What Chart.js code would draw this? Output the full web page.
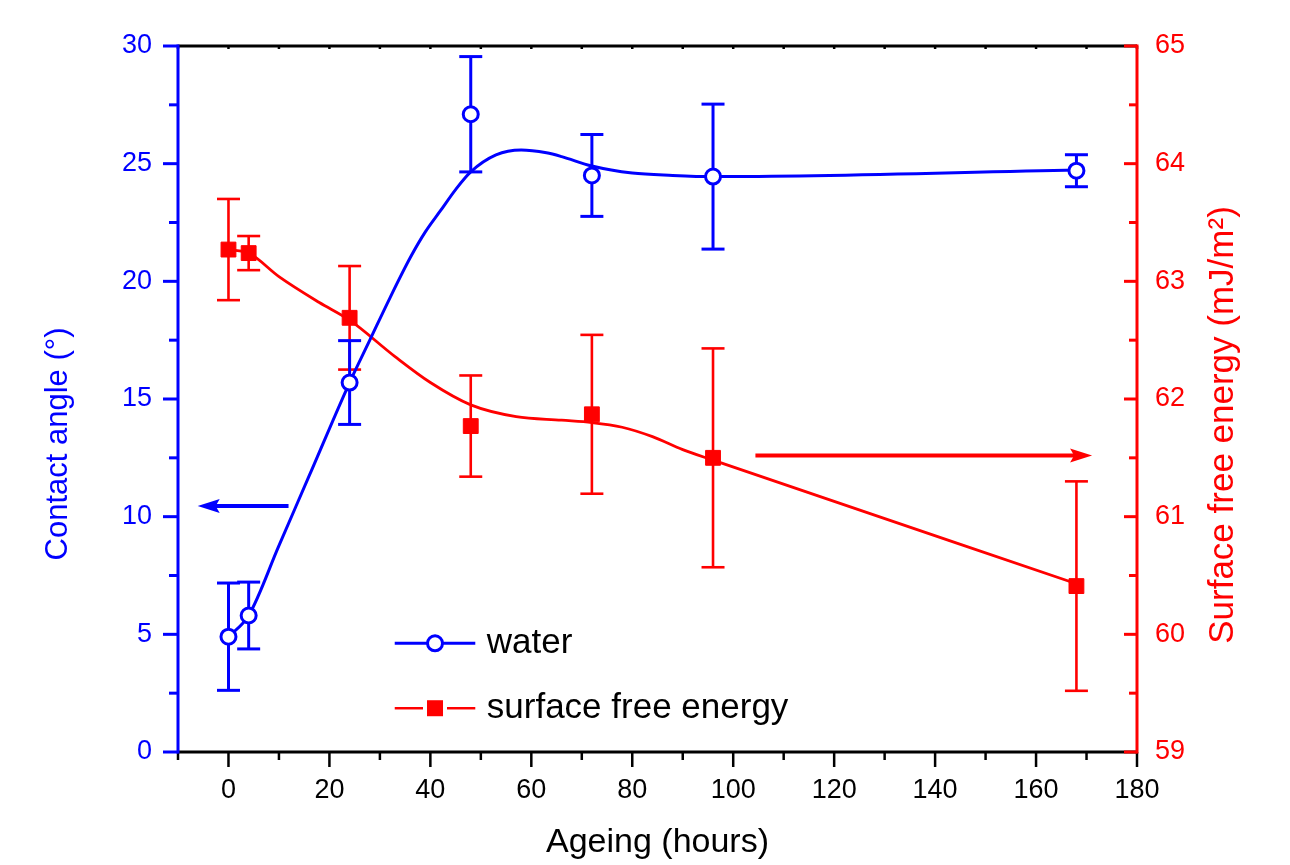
<!DOCTYPE html>
<html>
<head>
<meta charset="utf-8">
<script src="https://cdn.jsdelivr.net/npm/chart.js@4.4.1/dist/chart.umd.min.js"></script>
<style>
body { margin: 0; background: #fff; }
#wrap { width: 1290px; height: 865px; }
</style>
</head>
<body>
<div id="wrap"><canvas id="chart" width="1290" height="865"></canvas></div>
<script>
// measured points
var hours = [0, 4, 24, 48, 72, 96, 168];
var waterAngle = [4.9, 5.8, 15.7, 27.1, 24.5, 24.45, 24.7];
var waterErr = [2.28, 1.42, 1.78, 2.45, 1.74, 3.08, 0.68];
var sfe = [63.27, 63.24, 62.69, 61.77, 61.87, 61.5, 60.41];
var sfeErr = [0.43, 0.145, 0.44, 0.43, 0.675, 0.93, 0.89];

// smoothed curves
var waterFitX = [0, 4, 10, 16, 24, 28, 32, 36, 39, 42, 45, 48, 53, 58, 63, 66, 72, 80, 88, 96, 168];
var waterFitY = [4.9, 5.8, 8.77, 11.74, 15.7, 17.5, 19.3, 21.0, 22.1, 23.0, 23.9, 24.65, 25.37, 25.58, 25.46, 25.3, 24.9, 24.6, 24.5, 24.45, 24.73];
var sfeFitX = [0, 4, 10, 18, 24, 33, 40, 48, 57, 66, 72, 78, 84, 90, 96, 168];
var sfeFitY = [63.27, 63.24, 63.04, 62.82, 62.67, 62.36, 62.14, 61.95, 61.85, 61.82, 61.8, 61.76, 61.68, 61.57, 61.48, 60.43];

// arrows: [from x, to x, y]
var waterArrow = [11.9, -6.1, 10.45];
var sfeArrow = [104.4, 171.1, 61.52];

// ticks
var xTicks = [-10, 0, 10, 20, 30, 40, 50, 60, 70, 80, 90, 100, 110, 120, 130, 140, 150, 160, 170, 180];
var yTicks = [0, 2.5, 5, 7.5, 10, 12.5, 15, 17.5, 20, 22.5, 25, 27.5, 30];
var y1Ticks = [59, 59.5, 60, 60.5, 61, 61.5, 62, 62.5, 63, 63.5, 64, 64.5, 65];

var blue = '#0000ff';
var red = '#ff0000';
var fontFamily = '"Liberation Sans", Arial, sans-serif';

function pts(xs, ys) {
    return xs.map(function (x, i) { return { x: x, y: ys[i] }; });
}

function line(ctx, x1, y1, x2, y2) {
    ctx.beginPath();
    ctx.moveTo(x1, y1);
    ctx.lineTo(x2, y2);
    ctx.stroke();
}

function errorBars(ctx, xs, ys, errs, yScale, xScale, color, width) {
    ctx.save();
    ctx.strokeStyle = color;
    ctx.lineWidth = width;
    for (var i = 0; i < xs.length; i++) {
        var px = xScale.getPixelForValue(xs[i]);
        var top = yScale.getPixelForValue(ys[i] + errs[i]);
        var bot = yScale.getPixelForValue(ys[i] - errs[i]);
        line(ctx, px, top, px, bot);
        line(ctx, px - 11.5, top, px + 11.5, top);
        line(ctx, px - 11.5, bot, px + 11.5, bot);
    }
    ctx.restore();
}

function arrow(ctx, x1, x2, py, color) {
    var dir = x2 > x1 ? 1 : -1;
    ctx.save();
    ctx.strokeStyle = color;
    ctx.fillStyle = color;
    ctx.lineWidth = 4;
    line(ctx, x1, py, x2 - dir * 15, py);
    ctx.beginPath();
    ctx.moveTo(x2, py);
    ctx.lineTo(x2 - dir * 22, py - 7);
    ctx.lineTo(x2 - dir * 18, py);
    ctx.lineTo(x2 - dir * 22, py + 7);
    ctx.closePath();
    ctx.fill();
    ctx.restore();
}

var decor = {
    id: 'decor',
    beforeDatasetsDraw: function (chart) {
        var ctx = chart.ctx, s = chart.scales;
        errorBars(ctx, hours, sfe, sfeErr, s.y1, s.x, red, 2.6);
        errorBars(ctx, hours, waterAngle, waterErr, s.y, s.x, blue, 3);
    },
    afterDatasetsDraw: function (chart) {
        var ctx = chart.ctx, s = chart.scales, a = chart.chartArea;
        arrow(ctx, s.x.getPixelForValue(waterArrow[0]), s.x.getPixelForValue(waterArrow[1]), s.y.getPixelForValue(waterArrow[2]), blue);
        arrow(ctx, s.x.getPixelForValue(sfeArrow[0]), s.x.getPixelForValue(sfeArrow[1]), s.y1.getPixelForValue(sfeArrow[2]), red);

        // axis frame and tick marks
        ctx.save();
        ctx.lineCap = 'butt';
        ctx.lineWidth = 3;
        ctx.strokeStyle = '#000';
        line(ctx, a.left, a.top, a.right, a.top);
        ctx.lineWidth = 2.5;
        xTicks.forEach(function (v) {
            var px = s.x.getPixelForValue(v);
            line(ctx, px, a.bottom, px, a.bottom + (v % 20 === 0 ? 15 : 8));
            line(ctx, px, a.top, px, a.top + 3);
        });
        ctx.lineWidth = 3;
        line(ctx, a.left, a.bottom, a.right, a.bottom);

        ctx.strokeStyle = blue;
        line(ctx, a.left, a.top - 1.5, a.left, a.bottom + 1.5);
        yTicks.forEach(function (v) {
            var py = s.y.getPixelForValue(v);
            line(ctx, a.left - (v % 5 === 0 ? 15 : 9), py, a.left, py);
        });

        ctx.strokeStyle = red;
        line(ctx, a.right, a.top - 1.5, a.right, a.bottom + 1.5);
        y1Ticks.forEach(function (v) {
            var py = s.y1.getPixelForValue(v);
            line(ctx, a.right, py, a.right - (v % 1 === 0 ? 13 : 8), py);
        });
        ctx.restore();

        // legend
        var w = a.right - a.left, h = a.bottom - a.top;
        var lx1 = a.left + 0.226 * w, lx2 = a.left + 0.31 * w, lm = (lx1 + lx2) / 2, tx = a.left + 0.322 * w;
        var ly1 = a.top + 0.846 * h, ly2 = a.top + 0.938 * h;
        ctx.save();
        ctx.strokeStyle = blue;
        ctx.lineWidth = 3;
        line(ctx, lx1, ly1, lx2, ly1);
        ctx.beginPath();
        ctx.arc(lm, ly1, 7.5, 0, Math.PI * 2);
        ctx.fillStyle = '#fff';
        ctx.fill();
        ctx.stroke();
        ctx.strokeStyle = red;
        ctx.lineWidth = 2.5;
        line(ctx, lx1, ly2, lm - 12, ly2);
        line(ctx, lm + 12, ly2, lx2, ly2);
        ctx.fillStyle = red;
        ctx.fillRect(lm - 8, ly2 - 8, 16, 16);
        ctx.fillStyle = '#000';
        ctx.font = '35px ' + fontFamily;
        ctx.textBaseline = 'middle';
        ctx.textAlign = 'left';
        ctx.fillText('water', tx, ly1);
        ctx.fillText('surface free energy', tx, ly2);

        // axis titles
        ctx.textAlign = 'center';
        ctx.font = '34px ' + fontFamily;
        ctx.fillText('Ageing (hours)', (a.left + a.right) / 2, a.bottom + 91);
        ctx.save();
        ctx.font = '31px ' + fontFamily;
        ctx.translate(58, a.top + 398);
        ctx.rotate(-Math.PI / 2);
        ctx.fillStyle = blue;
        ctx.fillText('Contact angle (°)', 0, 0);
        ctx.restore();
        ctx.save();
        ctx.font = '35px ' + fontFamily;
        ctx.translate(a.right + 86, a.top + 379);
        ctx.rotate(-Math.PI / 2);
        ctx.fillStyle = red;
        ctx.fillText('Surface free energy (mJ/m²)', 0, 0);
        ctx.restore();
        ctx.restore();
    }
};

function setTicks(list) {
    return function (scale) {
        scale.ticks = list.map(function (v) { return { value: v }; });
    };
}

var ctx = document.getElementById('chart').getContext('2d');
var chart = new Chart(ctx, {
    type: 'scatter',
    data: {
        datasets: [{
            label: 'water',
            data: pts(hours, waterAngle),
            yAxisID: 'y',
            showLine: false,
            pointStyle: 'circle',
            pointRadius: 7.5,
            pointBorderWidth: 3,
            pointBackgroundColor: '#fff',
            pointBorderColor: blue
        }, {
            label: 'surface free energy',
            data: pts(hours, sfe),
            yAxisID: 'y1',
            showLine: false,
            pointStyle: 'rect',
            pointRadius: 10.5,
            pointBorderWidth: 1,
            pointBackgroundColor: red,
            pointBorderColor: red
        }, {
            label: 'water fit',
            data: pts(waterFitX, waterFitY),
            yAxisID: 'y',
            showLine: true,
            borderColor: blue,
            borderWidth: 3,
            pointRadius: 0,
            cubicInterpolationMode: 'monotone'
        }, {
            label: 'sfe fit',
            data: pts(sfeFitX, sfeFitY),
            yAxisID: 'y1',
            showLine: true,
            borderColor: red,
            borderWidth: 2.8,
            pointRadius: 0,
            cubicInterpolationMode: 'monotone'
        }]
    },
    options: {
        responsive: false,
        animation: false,
        layout: { padding: { top: 46 } },
        plugins: { legend: { display: false }, tooltip: { enabled: false } },
        scales: {
            x: {
                type: 'linear', min: -10, max: 180,
                afterBuildTicks: setTicks(xTicks),
                afterFit: function (s) { s.height = 113; },
                grid: { display: false, drawTicks: false },
                border: { display: false },
                ticks: {
                    autoSkip: false, maxRotation: 0, padding: 22, color: '#000',
                    font: { family: fontFamily, size: 27 },
                    callback: function (v) { return (v >= 0 && v % 20 === 0) ? v : ''; }
                }
            },
            y: {
                position: 'left', min: 0, max: 30,
                afterBuildTicks: setTicks(yTicks),
                afterFit: function (s) { s.width = 178; },
                grid: { display: false, drawTicks: false },
                border: { display: false },
                ticks: {
                    autoSkip: false, padding: 26, color: blue,
                    font: { family: fontFamily, size: 27 },
                    callback: function (v) { return v % 5 === 0 ? v : ''; }
                }
            },
            y1: {
                position: 'right', min: 59, max: 65,
                afterBuildTicks: setTicks(y1Ticks),
                afterFit: function (s) { s.width = 153; },
                grid: { display: false, drawTicks: false },
                border: { display: false },
                ticks: {
                    autoSkip: false, padding: 18, color: red,
                    font: { family: fontFamily, size: 27 },
                    callback: function (v) { return v % 1 === 0 ? v : ''; }
                }
            }
        }
    },
    plugins: [decor]
});
</script>
</body>
</html>
